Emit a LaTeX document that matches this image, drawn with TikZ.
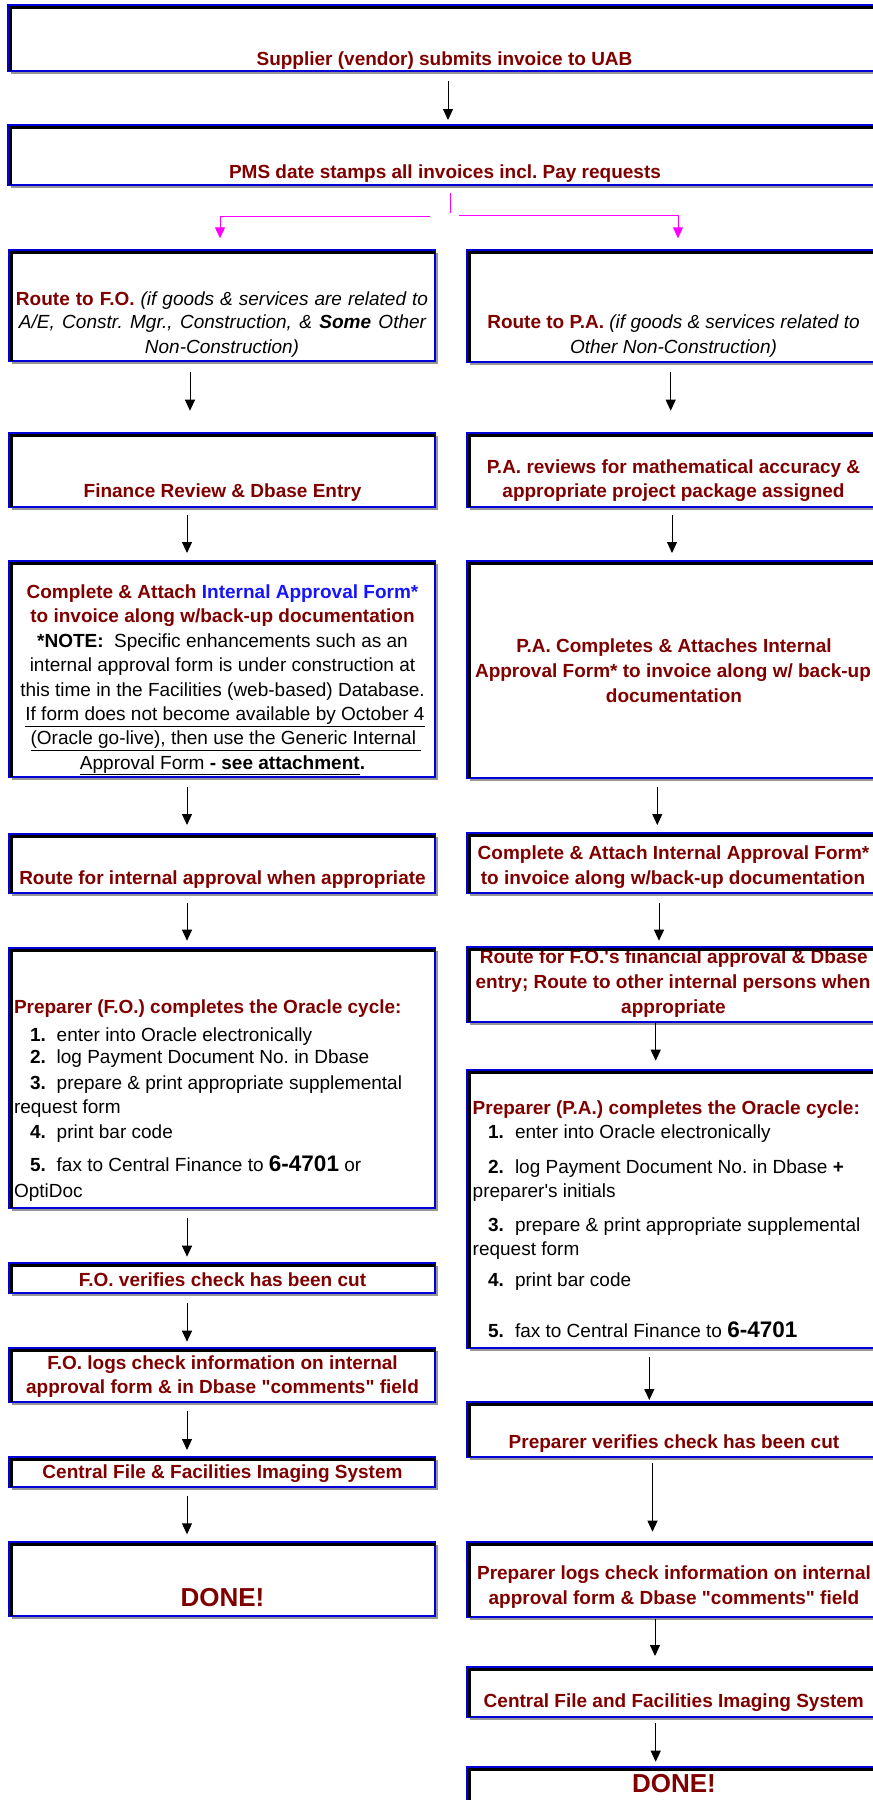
\documentclass[tikz,border=0pt]{standalone}
\usepackage{fontspec}
\setmainfont{Liberation Sans}
\usetikzlibrary{arrows.meta}
\definecolor{darkred}{RGB}{128,0,0}
\definecolor{boxblue}{RGB}{0,0,220}
\definecolor{shadowgray}{RGB}{150,150,150}
\definecolor{linkblue}{RGB}{20,20,255}
\definecolor{pinkline}{RGB}{255,0,255}
\newcounter{tl}
\newcommand\flowbox[5]{%
  \fill[shadowgray] (#2+3,#3+3) rectangle (#4+3,#5+3);
  \node[flow, anchor=north west, minimum width={(#4-#2)*1pt}, minimum height={(#5-#3)*1pt}] (#1) at (#2,#3) {};
  \draw[black, line width=2.5pt] ([xshift=2.25pt]#1.south west) -- ([xshift=2.25pt,yshift=-2.25pt]#1.north west) -- ([yshift=-2.25pt]#1.north east);
}
\newcommand\tline[3][]{\stepcounter{tl}\node[txt,#1] (t\arabic{tl}) at (#2) {#3};}
\newcommand\nitem[3]{\makebox[#1][l]{\textbf{#2}}#3}
\newcommand\bignum[1]{{\fontsize{22.5}{24}\selectfont\bfseries #1}}
\newcommand\qq{\textquotedbl}
\newcommand\ap{\textquotesingle}
\tikzset{
  flow/.style={rectangle, draw=boxblue, line width=2pt, fill=white, inner sep=0pt, outer sep=0pt},
  txt/.style={inner sep=0pt, outer sep=0pt, anchor=base, font=\fontsize{19}{24}\selectfont\frenchspacing, text=black},
  hd/.style={txt, font=\fontsize{19}{24}\selectfont\frenchspacing\bfseries, text=darkred},
  done/.style={txt, font=\fontsize{26}{30}\selectfont\bfseries, text=darkred},
  arr/.style={-{Triangle[length=11pt,width=10pt]}, line width=1pt, draw=black},
  pinkarr/.style={-{Triangle[length=11pt,width=10pt]}, line width=1pt, color=pinkline},
}
\begin{document}
\frenchspacing
\begin{tikzpicture}[x=1pt, y=-1pt]
\useasboundingbox (0,0) rectangle (873,1800);
\clip (0,0) rectangle (873,1800);
\fill[white] (0,0) rectangle (873,1800);
% boxes
\flowbox{A}{8}{5}{882}{71}
\flowbox{B}{8}{125}{882}{185}
\flowbox{C}{9}{250}{435}{361}
\flowbox{D}{467}{250}{880}{362}
\flowbox{E}{9}{433}{435}{507}
\flowbox{M}{467}{433}{880}{507}
\flowbox{F}{9}{561}{435}{777}
\flowbox{N}{467}{561}{880}{778}
\flowbox{G}{9}{834}{435}{893}
\flowbox{O}{467}{833}{880}{893}
\flowbox{H}{9}{948}{435}{1208}
\flowbox{P}{467}{947}{880}{1022}
\flowbox{I}{9}{1263}{435}{1293}
\flowbox{Q}{467}{1070}{880}{1348}
\flowbox{J}{9}{1348}{435}{1402}
\flowbox{R}{467}{1402}{880}{1457}
\flowbox{K}{9}{1457}{435}{1487}
\flowbox{S}{467}{1542}{880}{1617}
\flowbox{L}{9}{1542}{435}{1616}
\flowbox{T}{467}{1667}{880}{1717}
\flowbox{U}{467}{1767}{880}{1840}
% texts
\tline[hd]{444.5,65}{Supplier (vendor) submits invoice to UAB}
\tline[hd]{445,178.5}{PMS date stamps all invoices incl. Pay requests}
% C
\tline{222,305.3}{\makebox[412pt][s]{{\bfseries\color{darkred}Route to F.O.} \textit{(if goods \& services are related to}}}
\tline{222.5,328.7}{\makebox[407pt][s]{\itshape A/E, Constr. Mgr., Construction, \& \textbf{Some} Other}}
\tline{222,353.7}{\itshape Non-Construction)}
% D
\tline{673.5,328.5}{{\bfseries\color{darkred}Route to P.A.} \textit{(if goods \& services related to}}
\tline{673.5,353.5}{\itshape Other Non-Construction)}
% E, M
\tline[hd]{222.5,497}{Finance Review \& Dbase Entry}
\tline[hd]{673.5,473.5}{P.A. reviews for mathematical accuracy \&}
\tline[hd]{673.5,497.5}{appropriate project package assigned}
% F
\tline[hd]{222.5,598.5}{Complete \& Attach {\color{linkblue}Internal Approval Form*}}
\tline[hd]{222.5,622.9}{to invoice along w/back-up documentation}
\tline{222.5,647.3}{\textbf{*NOTE:}\ \ Specific enhancements such as an}
\tline{222.5,671.7}{internal approval form is under construction at}
\tline{222.5,696.1}{this time in the Facilities (web-based) Database.}
\tline{225,720.5}{\underline{If form does not become available by October 4}}
\tline{226,744.9}{\underline{(Oracle go-live), then use the Generic Internal\ }}
\tline{222.5,769.3}{\underline{Approval Form \textbf{- see attachment}}\textbf{.}}
% N
\tline[hd]{674,652}{P.A. Completes \& Attaches Internal}
\tline[hd]{673,677}{Approval Form* to invoice along w/ back-up}
\tline[hd]{674,702}{documentation}
% G, O
\tline[hd]{222.5,884.5}{Route for internal approval when appropriate}
\tline[hd]{673.5,859.7}{Complete \& Attach Internal Approval Form*}
\tline[hd]{673,884.3}{to invoice along w/back-up documentation}
% H
\tline[hd,anchor=base west]{14,1013.7}{Preparer (F.O.) completes the Oracle cycle:}
\tline[anchor=base west]{30,1041}{\nitem{26.7pt}{1.}{enter into Oracle electronically}}
\tline[anchor=base west]{30,1063}{\nitem{26.7pt}{2.}{log Payment Document No. in Dbase}}
\tline[anchor=base west]{30,1089.7}{\nitem{26.7pt}{3.}{prepare \& print appropriate supplemental}}
\tline[anchor=base west]{14,1113.7}{request form}
\tline[anchor=base west]{30,1138.7}{\nitem{26.7pt}{4.}{print bar code}}
\tline[anchor=base west]{30,1171}{\nitem{26.7pt}{5.}{fax to Central Finance to \bignum{6-4701} or}}
\tline[anchor=base west]{14,1197}{OptiDoc}
% P
\tline[hd]{673.8,963.7}{Route for F.O.\ap s financial approval \& Dbase}
\tline[hd]{673,988.7}{entry; Route to other internal persons when}
\tline[hd]{673.5,1013.7}{appropriate}
\draw[boxblue, line width=2pt] (P.north west) -- (P.north east);
\draw[black, line width=2.5pt] ([yshift=-2.25pt]P.north west) -- ([yshift=-2.25pt]P.north east);
% Q
\tline[hd,anchor=base west]{472.7,1114.3}{Preparer (P.A.) completes the Oracle cycle:}
\tline[anchor=base west]{488,1138.7}{\nitem{27pt}{1.}{enter into Oracle electronically}}
\tline[anchor=base west]{488,1173}{\nitem{27pt}{2.}{log Payment Document No. in Dbase \textbf{+}}}
\tline[anchor=base west]{472.7,1197.7}{preparer\ap s initials}
\tline[anchor=base west]{488,1231.5}{\nitem{27pt}{3.}{prepare \& print appropriate supplemental}}
\tline[anchor=base west]{472.7,1255.3}{request form}
\tline[anchor=base west]{488,1286}{\nitem{27pt}{4.}{print bar code}}
\tline[anchor=base west]{488,1337}{\nitem{27pt}{5.}{fax to Central Finance to \bignum{6-4701}}}
% I, J, K, L
\tline[hd]{222.5,1286.3}{F.O. verifies check has been cut}
\tline[hd]{222.5,1369.3}{F.O. logs check information on internal}
\tline[hd]{222.5,1393.7}{approval form \& in Dbase \qq comments\qq{} field}
\tline[hd]{222.5,1478.7}{Central File \& Facilities Imaging System}
\tline[done]{222.5,1606}{DONE!}
% R, S, T, U
\tline[hd]{674,1448.7}{Preparer verifies check has been cut}
\tline[hd]{674,1579.7}{Preparer logs check information on internal}
\tline[hd]{674,1604.3}{approval form \& Dbase \qq comments\qq{} field}
\tline[hd]{673.8,1707.7}{Central File and Facilities Imaging System}
\tline[done]{674,1792}{DONE!}
% connectors
\draw[arr] ([xshift=3pt,yshift=-10pt]A.south) -- ([xshift=3pt,yshift=5pt]B.north);
\draw[line width=1pt, pinkline] ([xshift=5pt,yshift=-7.7pt]B.south) -- ([xshift=5pt,yshift=-28.3pt]B.south);
\draw[pinkarr] ([xshift=-15pt,yshift=-31.7pt]B.south) -| ([xshift=-2pt,yshift=11.7pt]C.north);
\draw[pinkarr] ([xshift=14.4pt,yshift=-30pt]B.south) -| ([xshift=4.5pt,yshift=11.7pt]D.north);
% left column
\draw[arr] ([xshift=-32pt,yshift=-10.7pt]C.south) -- ([xshift=-32pt,yshift=22.3pt]E.north);
\draw[arr] ([xshift=-35pt,yshift=-8pt]E.south) -- ([xshift=-35pt,yshift=8pt]F.north);
\draw[arr] ([xshift=-35pt,yshift=-9.7pt]F.south) -- ([xshift=-35pt,yshift=9pt]G.north);
\draw[arr] ([xshift=-35pt,yshift=-9.7pt]G.south) -- ([xshift=-35pt,yshift=7.3pt]H.north);
\draw[arr] ([xshift=-35pt,yshift=-10pt]H.south) -- ([xshift=-35pt,yshift=6.3pt]I.north);
\draw[arr] ([xshift=-35pt,yshift=-9.7pt]I.south) -- ([xshift=-35pt,yshift=6.3pt]J.north);
\draw[arr] ([xshift=-35pt,yshift=-9pt]J.south) -- ([xshift=-35pt,yshift=7pt]K.north);
\draw[arr] ([xshift=-35pt,yshift=-8.7pt]K.south) -- ([xshift=-35pt,yshift=7.7pt]L.north);
% right column
\draw[arr] ([xshift=-2.8pt,yshift=-9.7pt]D.south) -- ([xshift=-2.8pt,yshift=22.3pt]M.north);
\draw[arr] ([xshift=-1.5pt,yshift=-8pt]M.south) -- ([xshift=-1.5pt,yshift=8pt]N.north);
\draw[arr] ([xshift=-16.2pt,yshift=-8.7pt]N.south) -- ([xshift=-16.2pt,yshift=8pt]O.north);
\draw[arr] ([xshift=-14.5pt,yshift=-9.7pt]O.south) -- ([xshift=-14.5pt,yshift=6.3pt]P.north);
\draw[arr] ([xshift=-17.8pt,yshift=-1pt]P.south) -- ([xshift=-17.8pt,yshift=9.3pt]Q.north);
\draw[arr] ([xshift=-24.2pt,yshift=-9.3pt]Q.south) -- ([xshift=-24.2pt,yshift=2pt]R.north);
\draw[arr] ([xshift=-21pt,yshift=-6.3pt]R.south) -- ([xshift=-21pt,yshift=10.3pt]S.north);
\draw[arr] ([xshift=-18.5pt,yshift=-2.3pt]S.south) -- ([xshift=-18.5pt,yshift=11pt]T.north);
\draw[arr] ([xshift=-17.8pt,yshift=-6.3pt]T.south) -- ([xshift=-17.8pt,yshift=5.3pt]U.north);
\end{tikzpicture}
\end{document}
